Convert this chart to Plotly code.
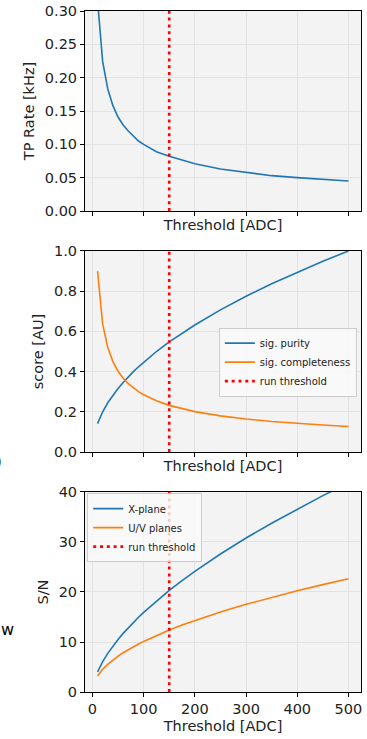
import plotly.graph_objects as go
from plotly.subplots import make_subplots

# ---- data ----
threshold = [10, 20, 30, 40, 50, 60, 70, 80, 90, 100, 125, 150, 175, 200, 250, 300, 350, 400, 450, 500]
tp_rate = [0.316, 0.224, 0.183, 0.158, 0.141, 0.129, 0.120, 0.112, 0.105, 0.100,
           0.089, 0.082, 0.076, 0.071, 0.063, 0.058, 0.053, 0.050, 0.047, 0.045]
sig_purity = [0.141, 0.200, 0.245, 0.283, 0.316, 0.346, 0.374, 0.400, 0.424, 0.447,
              0.500, 0.548, 0.592, 0.632, 0.707, 0.775, 0.837, 0.894, 0.949, 1.000]
sig_completeness = [0.900, 0.636, 0.520, 0.450, 0.402, 0.367, 0.340, 0.318, 0.300, 0.285,
                    0.255, 0.232, 0.215, 0.201, 0.180, 0.164, 0.152, 0.142, 0.134, 0.127]
sn_x_plane = [4.00, 6.06, 7.73, 9.19, 10.51, 11.72, 12.86, 13.93, 14.95, 15.92,
              18.21, 20.31, 22.28, 24.14, 27.60, 30.79, 33.76, 36.58, 39.27, 41.84]
sn_uv_planes = [3.20, 4.53, 5.54, 6.40, 7.16, 7.84, 8.47, 9.05, 9.60, 10.12,
                11.31, 12.39, 13.39, 14.31, 16.00, 17.53, 18.93, 20.24, 21.47, 22.63]
run_threshold = 150
y_ranges = [[0, 0.30], [0, 1.0], [0, 40]]
x_ticks = [0, 100, 200, 300, 400, 500]

BLUE = "#1f77b4"
ORANGE = "#ff7f0e"
RED = "red"
FONT = "DejaVu Sans"
DOT = "3px,3.8px"

fig = make_subplots(rows=3, cols=1, vertical_spacing=0.0587)

# Panel 1
fig.add_trace(go.Scatter(x=threshold, y=tp_rate, mode="lines", line=dict(color=BLUE, width=1.6),
                         showlegend=False), row=1, col=1)
fig.add_trace(go.Scatter(x=[run_threshold, run_threshold], y=y_ranges[0], mode="lines",
                         line=dict(color=RED, width=2.6, dash=DOT), showlegend=False),
              row=1, col=1)

# Panel 2
fig.add_trace(go.Scatter(x=threshold, y=sig_purity, mode="lines", name="sig. purity",
                         line=dict(color=BLUE, width=1.6), legend="legend"), row=2, col=1)
fig.add_trace(go.Scatter(x=threshold, y=sig_completeness, mode="lines", name="sig. completeness",
                         line=dict(color=ORANGE, width=1.6), legend="legend"), row=2, col=1)
fig.add_trace(go.Scatter(x=[run_threshold, run_threshold], y=y_ranges[1], mode="lines",
                         name="run threshold", line=dict(color=RED, width=2.6, dash=DOT),
                         legend="legend"), row=2, col=1)

# Panel 3
fig.add_trace(go.Scatter(x=threshold, y=sn_x_plane, mode="lines", name="X-plane",
                         line=dict(color=BLUE, width=1.6), legend="legend2"), row=3, col=1)
fig.add_trace(go.Scatter(x=threshold, y=sn_uv_planes, mode="lines", name="U/V planes",
                         line=dict(color=ORANGE, width=1.6), legend="legend2"), row=3, col=1)
fig.add_trace(go.Scatter(x=[run_threshold, run_threshold], y=y_ranges[2], mode="lines",
                         name="run threshold", line=dict(color=RED, width=2.6, dash=DOT),
                         legend="legend2"), row=3, col=1)

axis_common = dict(showline=True, mirror=True, linecolor="black", linewidth=1,
                   ticks="outside", ticklen=4, tickcolor="black", tickwidth=1,
                   showgrid=True, gridcolor="#e3e3e3", gridwidth=1, zeroline=False,
                   tickfont=dict(family=FONT, size=14.5, color="#222"))

domains = [[0.7063, 1.0], [0.3524, 0.6476], [0.0, 0.2937]]
y_titles = ["TP Rate [kHz]", "score [AU]", "S/N"]
y_dticks = [0.05, 0.2, 10]
y_formats = [".2f", ".1f", "d"]

for i in range(3):
    n = "" if i == 0 else str(i + 1)
    fig.layout["xaxis" + n].update(
        range=[-14.5, 524.5], tickvals=x_ticks, showticklabels=(i == 2),
        title=dict(text="Threshold [ADC]", font=dict(family=FONT, size=14.5, color="#222"),
                   standoff=4),
        **axis_common)
    fig.layout["yaxis" + n].update(
        range=y_ranges[i], dtick=y_dticks[i], tick0=0, tickformat=y_formats[i], domain=domains[i],
        title=dict(text=y_titles[i], font=dict(family=FONT, size=14.5, color="#222"), standoff=6),
        **axis_common)

legend_style = dict(bgcolor="rgba(250,250,250,0.8)", bordercolor="#cccccc", borderwidth=1,
                    font=dict(family=FONT, size=10, color="#222"), itemwidth=30)

fig.update_layout(
    width=367, height=739,
    margin=dict(l=85, r=6, t=11, b=47, autoexpand=False),
    plot_bgcolor="#f3f3f3", paper_bgcolor="white",
    font=dict(family=FONT, color="#222"),
    legend=dict(x=0.985, y=0.535, xanchor="right", yanchor="top", **legend_style),
    legend2=dict(x=0.008, y=0.292, xanchor="left", yanchor="top", **legend_style),
    annotations=[
        dict(text="w", xref="paper", yref="paper", x=-0.31, y=0.0925, xanchor="left",
             yanchor="middle", showarrow=False, font=dict(family=FONT, size=16, color="black")),
        dict(text=")", xref="paper", yref="paper", x=-0.293, y=0.339, xanchor="right",
             yanchor="middle", showarrow=False, font=dict(family=FONT, size=18, color="black")),
    ],
)

fig.write_html(
    "out.html",
    config={"displayModeBar": False},
    post_script="document.body.style.margin='0';document.body.style.overflow='hidden';",
)
